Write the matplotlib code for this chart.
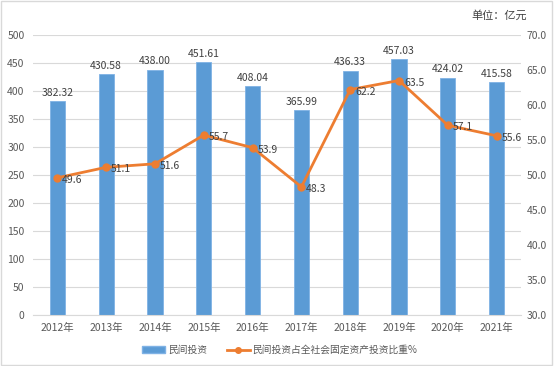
import matplotlib
matplotlib.use("Agg")
import matplotlib.pyplot as plt
from matplotlib.patches import Rectangle, Patch
from matplotlib.lines import Line2D

plt.rcParams['font.family'] = ['Noto Sans CJK SC', 'DejaVu Sans']

years = ["2012年", "2013年", "2014年", "2015年", "2016年", "2017年", "2018年", "2019年", "2020年", "2021年"]
investment = [382.32, 430.58, 438.00, 451.61, 408.04, 365.99, 436.33, 457.03, 424.02, 415.58]
share = [49.6, 51.1, 51.6, 55.7, 53.9, 48.3, 62.2, 63.5, 57.1, 55.6]
bar_name = "民间投资"
line_name = "民间投资占全社会固定资产投资比重%"
unit_text = "单位：亿元"

W, H = 554, 366
fig = plt.figure(figsize=(W / 100, H / 100), dpi=100)
fig.patches.append(Rectangle((0.002, 0.003), 0.995, 0.994, transform=fig.transFigure,
                             fill=False, edgecolor="#d9d9d9", linewidth=1.0))

left, right, top, bottom = 33, 521, 35, 315
ax = fig.add_axes([left / W, 1 - bottom / H, (right - left) / W, (bottom - top) / H])
ax2 = ax.twinx()

x = list(range(len(years)))
ax.bar(x, investment, width=0.31, color="#5B9BD5", edgecolor="#7fb2e5", linewidth=0.6, zorder=2)
ax.set_xlim(-0.5, len(years) - 0.5)
ax.set_ylim(0, 500)
ax.set_yticks(range(0, 501, 50))
ax.grid(axis="y", color="#d9d9d9", linewidth=0.8, zorder=0)
ax.set_axisbelow(True)
for s in ["top", "right", "left"]:
    ax.spines[s].set_visible(False)
    ax2.spines[s].set_visible(False)
ax.spines["bottom"].set_color("#d9d9d9")
ax2.spines["bottom"].set_visible(False)
ax.tick_params(axis="both", length=0, labelsize=7.5, colors="#595959", pad=6)
ax.set_xticks(x)
ax.set_xticklabels(years)

for xi, v in zip(x, investment):
    ax.text(xi, v + 6, f"{v:.2f}", ha="center", va="bottom", fontsize=7.5, color="#404040")

ax2.plot(x, share, color="#ED7D31", linewidth=2, marker="o", markersize=5, zorder=3)
ax2.set_ylim(30, 70)
ax2.set_yticks(range(30, 71, 5))
ax2.set_yticklabels([f"{v:.1f}" for v in range(30, 71, 5)])
ax2.tick_params(axis="y", length=0, labelsize=7.5, colors="#595959", pad=4)
for xi, v in zip(x, share):
    ax2.text(xi + 0.1, v - 0.3, f"{v:.1f}", ha="left", va="center", fontsize=7.5, color="#404040")

fig.text(527 / W, 1 - 15 / H, unit_text, ha="right", va="center", fontsize=8, color="#404040")

handles = [Patch(facecolor="#5B9BD5", edgecolor="#7fb2e5"),
           Line2D([0], [0], color="#ED7D31", linewidth=2, marker="o", markersize=4)]
fig.legend(handles, [bar_name, line_name], loc="center", bbox_to_anchor=(0.505, 1 - 350 / H),
           ncol=2, frameon=False, fontsize=7, labelcolor="#595959", handlelength=2.4,
           handleheight=0.6, columnspacing=2.0, handletextpad=0.3)

fig.savefig("out.png", dpi=100)
